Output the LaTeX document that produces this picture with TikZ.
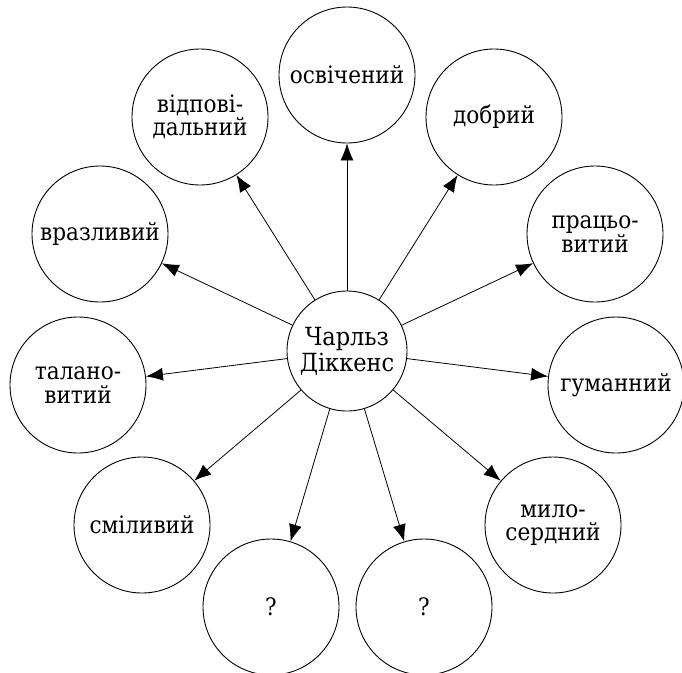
\documentclass[tikz,border=0pt]{standalone}
\usepackage{fontspec}
\setmainfont{DejaVu Serif Condensed}
\usetikzlibrary{arrows.meta}

\begin{document}
\begin{tikzpicture}[x=1pt, y=-1pt,
  trait/.style={draw, circle, minimum size=136pt, inner sep=0pt, align=center,
    line width=0.9pt, font=\fontsize{24}{23.5}\selectfont},
  hero/.style={trait, minimum size=120pt, font=\fontsize{25}{26}\selectfont},
  link/.style={-{Latex[length=17pt,width=13pt]}, line width=0.8pt}]
  \useasboundingbox (0,0) rectangle (682,672);
  \node[hero] (dick) at (347,351) {Чарльз\\ Діккенс};
  \node[trait] (osv) at (347,75) {освічений};
  \node[trait] (vidp) at (200,117) {відпові-\\ дальний};
  \node[trait] (dobr) at (494,117) {добрий};
  \node[trait] (vraz) at (100,234) {вразливий};
  \node[trait] (prac) at (595,234) {працьо-\\ витий};
  \node[trait] (tal) at (78,385) {талано-\\ витий};
  \node[trait] (hum) at (616,385) {гуманний};
  \node[trait] (smil) at (142,525) {сміливий};
  \node[trait] (mil) at (553,525) {мило-\\ сердний};
  \node[trait] (qa) at (271,607) {?};
  \node[trait] (qb) at (424,607) {?};
  \draw[link] (dick) -- (osv);
  \draw[link] (dick) -- (vidp);
  \draw[link] (dick) -- (dobr);
  \draw[link] (dick) -- (vraz);
  \draw[link] (dick) -- (prac);
  \draw[link] (dick) -- (tal);
  \draw[link] (dick) -- (hum);
  \draw[link] (dick) -- (smil);
  \draw[link] (dick) -- (mil);
  \draw[link] (dick) -- (qa);
  \draw[link] (dick) -- (qb);
\end{tikzpicture}
\end{document}
